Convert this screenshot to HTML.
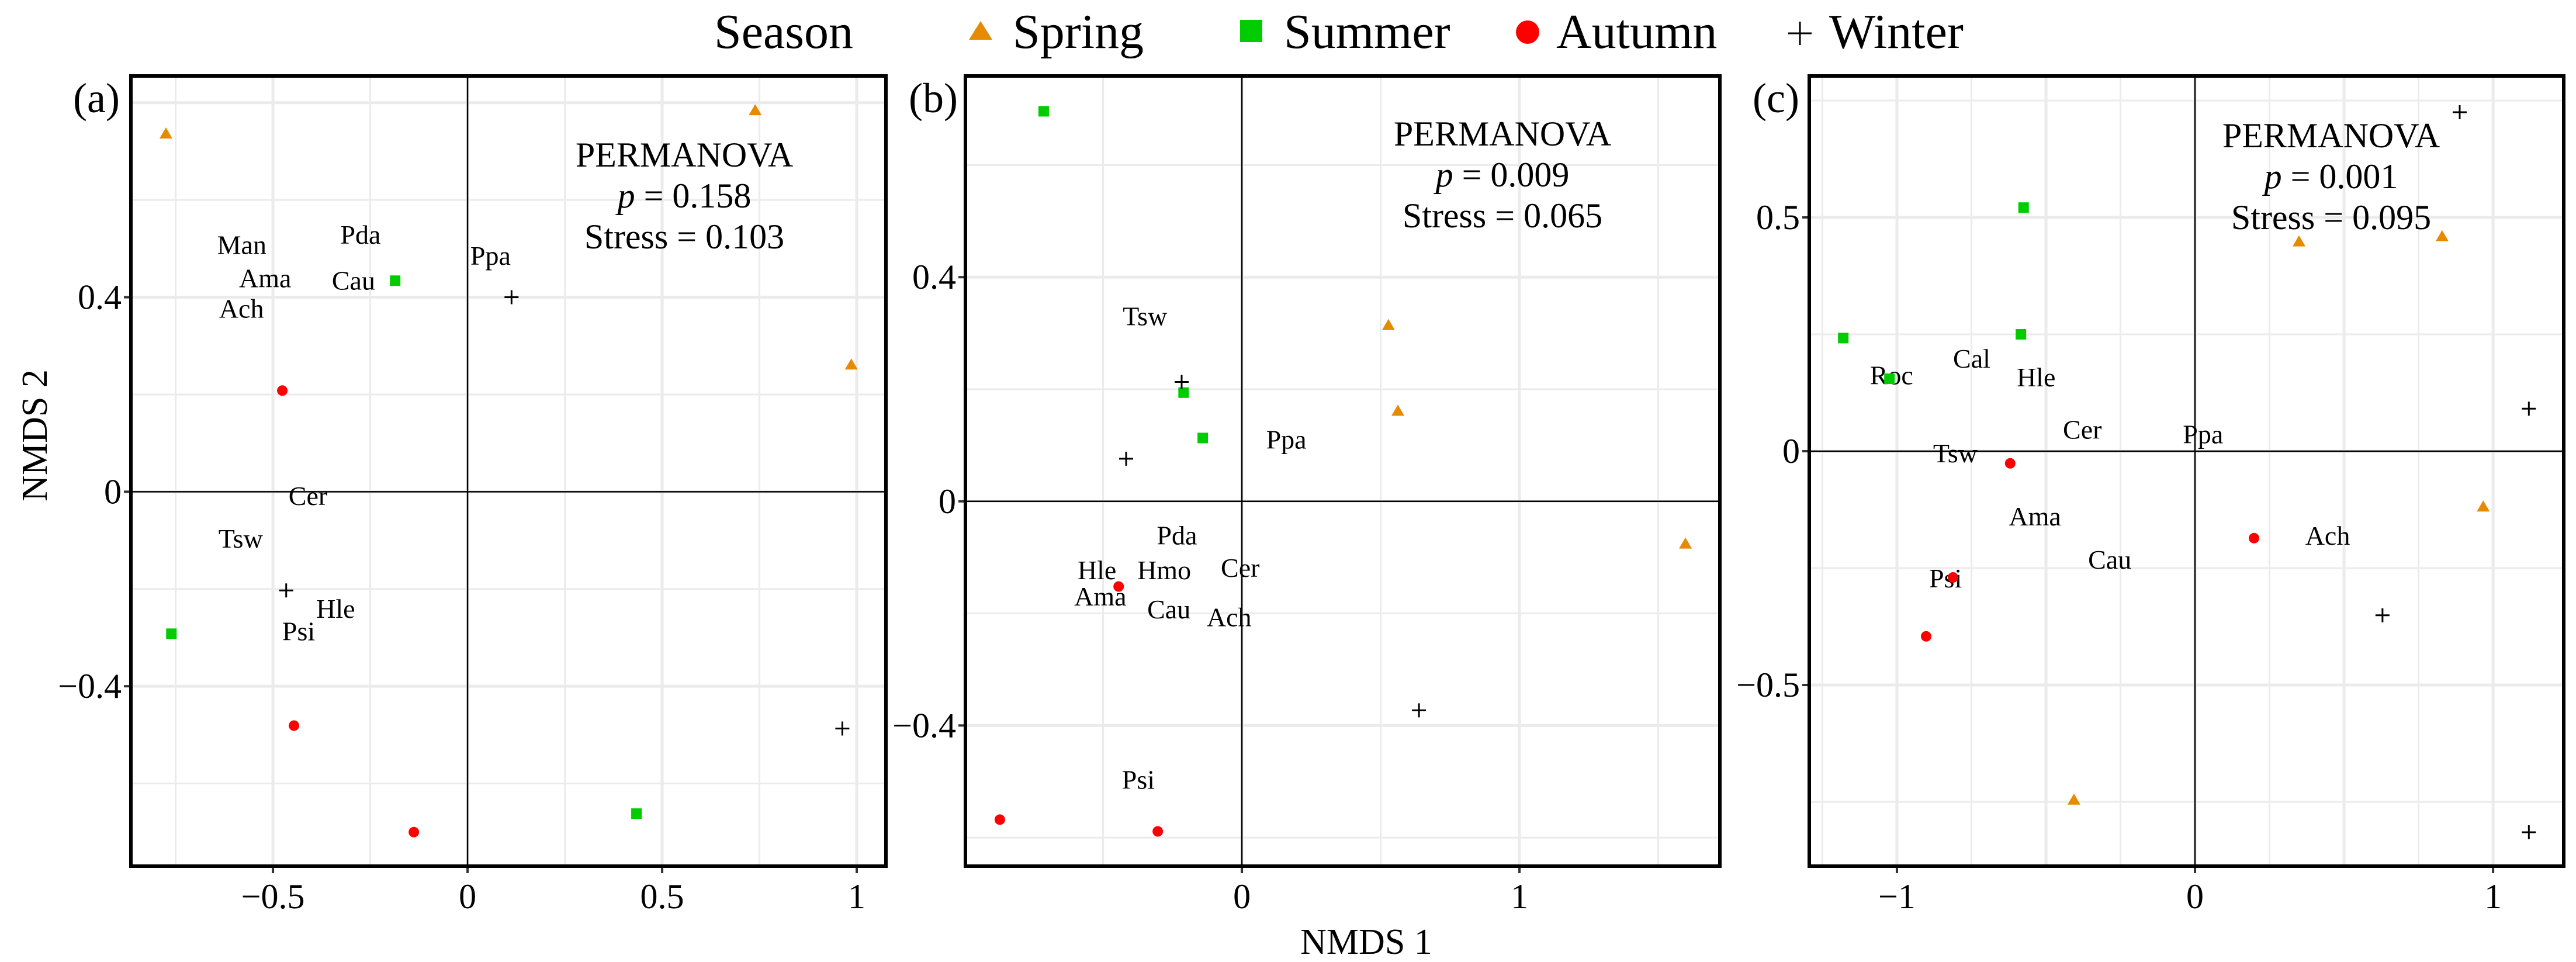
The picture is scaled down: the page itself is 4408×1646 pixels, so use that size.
<!DOCTYPE html>
<html><head><meta charset="utf-8"><style>
html,body{margin:0;padding:0;background:#fff;}
svg{display:block;}
svg text{font-family:"Liberation Serif","Times New Roman","DejaVu Serif",serif;}
</style></head><body>
<svg id="chart" width="4408" height="1646" viewBox="0 0 4408 1646" xmlns="http://www.w3.org/2000/svg" font-family="Liberation Serif, Times New Roman, serif">
<g>
<text x="1222" y="82" font-size="84" font-family="Liberation Serif, serif">Season</text>
<polygon points="1678,36 1698,68 1658,68" fill="#E68A00"/>
<text x="1733" y="82" font-size="84" font-family="Liberation Serif, serif">Spring</text>
<rect x="2122" y="34" width="38" height="38" fill="#00CC00"/>
<text x="2197" y="82" font-size="84" font-family="Liberation Serif, serif">Summer</text>
<circle cx="2614" cy="55" r="20" fill="#FF0000"/>
<text x="2663" y="82" font-size="84" font-family="Liberation Serif, serif">Autumn</text>
<path d="M3060,57 H3100 M3080,37 V77" stroke="#000" stroke-width="3"/>
<text x="3130" y="82" font-size="84" font-family="Liberation Serif, serif">Winter</text>
</g>
<text transform="translate(80,745) rotate(-90)" text-anchor="middle" font-size="62" font-family="Liberation Serif, serif">NMDS 2</text>
<text x="2338" y="1632" text-anchor="middle" font-size="62" font-family="Liberation Serif, serif">NMDS 1</text>
</svg>
<script>
// ---- Panel (a) data ----
const aSpringX=[-0.775,0.739,0.986], aSpringY=[0.736,0.784,0.261];
const aSummerX=[-0.186,-0.761,0.434], aSummerY=[0.434,-0.292,-0.662];
const aAutumnX=[-0.476,-0.446,-0.138], aAutumnY=[0.208,-0.481,-0.70];
const aWinterX=[0.113,-0.466,0.963], aWinterY=[0.40,-0.203,-0.487];
const aLabels=["Man","Ama","Ach","Pda","Cau","Ppa","Cer","Tsw","Hle","Psi"];
const aLabelX=[-0.580,-0.520,-0.581,-0.275,-0.293,0.059,-0.410,-0.583,-0.339,-0.434];
const aLabelY=[0.508,0.440,0.377,0.529,0.435,0.486,-0.008,-0.096,-0.240,-0.286];
const aXTicks=[-0.5,0,0.5,1], aXTickLabels=["−0.5","0","0.5","1"];
const aYTicks=[-0.4,0,0.4], aYTickLabels=["−0.4","0","0.4"];
const aStats=["0.158","0.103"];
// ---- Panel (b) data ----
const bSpringX=[0.528,0.562,1.598], bSpringY=[0.314,0.161,-0.076];
const bSummerX=[-0.714,-0.21,-0.141], bSummerY=[0.696,0.194,0.113];
const bAutumnX=[-0.444,-0.872,-0.303], bAutumnY=[-0.152,-0.568,-0.589];
const bWinterX=[-0.217,-0.417,0.638], bWinterY=[0.213,0.076,-0.373];
const bLabels=["Tsw","Ppa","Pda","Hle","Hmo","Cer","Ama","Cau","Ach","Psi"];
const bLabelX=[-0.349,0.160,-0.234,-0.522,-0.280,-0.006,-0.510,-0.263,-0.046,-0.373];
const bLabelY=[0.331,0.111,-0.060,-0.122,-0.122,-0.118,-0.169,-0.192,-0.206,-0.496];
const bXTicks=[0,1], bXTickLabels=["0","1"];
const bYTicks=[-0.4,0,0.4], bYTickLabels=["−0.4","0","0.4"];
const bStats=["0.009","0.065"];
// ---- Panel (c) data ----
const cSpringX=[0.349,0.829,0.967,-0.406], cSpringY=[0.448,0.459,-0.119,-0.746];
const cSummerX=[-0.575,-0.584,-1.180,-1.025], cSummerY=[0.521,0.250,0.242,0.155];
const cAutumnX=[-0.620,0.198,-0.812,-0.902], cAutumnY=[-0.026,-0.186,-0.270,-0.396];
const cWinterX=[0.888,1.12,0.629,1.12], cWinterY=[0.725,0.091,-0.351,-0.815];
const cLabels=["Roc","Cal","Hle","Cer","Ppa","Tsw","Ama","Cau","Ach","Psi"];
const cLabelX=[-1.018,-0.749,-0.533,-0.378,0.027,-0.804,-0.537,-0.286,0.445,-0.837];
const cLabelY=[0.163,0.199,0.159,0.047,0.037,-0.004,-0.139,-0.231,-0.18,-0.271];
const cXTicks=[-1,0,1], cXTickLabels=["−1","0","1"];
const cYTicks=[-0.5,0,0.5], cYTickLabels=["−0.5","0","0.5"];
const cStats=["0.001","0.095"];

const NS="http://www.w3.org/2000/svg";
const FONT="Liberation Serif, serif";
const svg=document.getElementById('chart');
function mk(tag,attrs,parent){const e=document.createElementNS(NS,tag);for(const k in attrs)e.setAttribute(k,attrs[k]);if(tag==='text')e.setAttribute('font-family',FONT);(parent||svg).appendChild(e);return e;}

function panel(cfg){
  const {id,left,right,top,bottom,xmin,xmax,ymin,ymax}=cfg;
  const sx=v=>left+(v-xmin)/(xmax-xmin)*(right-left);
  const sy=v=>bottom-(v-ymin)/(ymax-ymin)*(bottom-top);
  const g=mk('g',{});
  
  
  const grid=mk('g',{},g);
  
  
  for(let v=Math.ceil(xmin/cfg.gstep)*cfg.gstep; v<=xmax+1e-9; v+=cfg.gstep){
    const major=Math.abs(v/cfg.mstep-Math.round(v/cfg.mstep))<1e-6;
    mk('line',{x1:sx(v),x2:sx(v),y1:top,y2:bottom,stroke:'#ebebeb','stroke-width':major?5:3},grid);
  }
  for(let v=Math.ceil(ymin/cfg.gstepY)*cfg.gstepY; v<=ymax+1e-9; v+=cfg.gstepY){
    const major=Math.abs(v/cfg.mstepY-Math.round(v/cfg.mstepY))<1e-6;
    mk('line',{x1:left,x2:right,y1:sy(v),y2:sy(v),stroke:'#ebebeb','stroke-width':major?5:3},grid);
  }
  const zx=mk('line',{x1:sx(0),x2:sx(0),y1:top,y2:bottom,stroke:'#000','stroke-width':2.5},g);
  
  
  const zy=mk('line',{x1:left,x2:right,y1:sy(0),y2:sy(0),stroke:'#000','stroke-width':2.5},g);
  
  
  cfg.xTicks.forEach((v,i)=>{
    mk('line',{x1:sx(v),x2:sx(v),y1:bottom,y2:bottom+12,stroke:'#333','stroke-width':4},g);
    const t=mk('text',{x:sx(v),y:bottom+72,'text-anchor':'middle','font-size':60},g);
    
    
    t.textContent=cfg.xTickLabels[i];
  });
  cfg.yTicks.forEach((v,i)=>{
    mk('line',{x1:left-12,x2:left,y1:sy(v),y2:sy(v),stroke:'#333','stroke-width':4},g);
    const t=mk('text',{x:left-16,y:sy(v)+20,'text-anchor':'end','font-size':60},g);
    
    
    t.textContent=cfg.yTickLabels[i];
  });
  cfg.labels.forEach((s,i)=>{
    const t=mk('text',{x:sx(cfg.labelX[i]),y:sy(cfg.labelY[i])+16,'text-anchor':'middle','font-size':46},g);
    
    
    t.textContent=s;
  });
  cfg.springX.forEach((v,i)=>{const x=sx(v),y=sy(cfg.springY[i]);
    const p=mk('polygon',{points:`${x},${y-11} ${x+11},${y+8} ${x-11},${y+8}`,fill:'#E68A00'},g);
    
    });
  cfg.summerX.forEach((v,i)=>{const x=sx(v),y=sy(cfg.summerY[i]);
    const p=mk('rect',{x:x-9,y:y-9,width:18,height:18,fill:'#00CC00'},g);
    
    });
  cfg.autumnX.forEach((v,i)=>{const x=sx(v),y=sy(cfg.autumnY[i]);
    const p=mk('circle',{cx:x,cy:y,r:9,fill:'#FF0000'},g);
    
    });
  cfg.winterX.forEach((v,i)=>{const x=sx(v),y=sy(cfg.winterY[i]);
    const p=mk('path',{d:`M${x-12},${y} H${x+12} M${x},${y-12} V${y+12}`,stroke:'#000','stroke-width':3},g);
    
    });
  const b=mk('rect',{x:left,y:top,width:right-left,height:bottom-top,fill:'none',stroke:'#000','stroke-width':6},g);
  
  
  const tg=mk('text',{x:cfg.tagX,y:192,'text-anchor':'middle','font-size':72},g);
  
  
  tg.textContent='('+id+')';
  const st=mk('g',{},g);
  
  
  const t1=mk('text',{x:cfg.statX,y:cfg.statY,'text-anchor':'middle','font-size':60},st);t1.textContent='PERMANOVA';
  const t2=mk('text',{x:cfg.statX,y:cfg.statY+70,'text-anchor':'middle','font-size':60},st);
  const ti=mk('tspan',{'font-style':'italic'},t2);ti.textContent='p';
  const tr=mk('tspan',{},t2);tr.textContent=' = '+cfg.stats[0];
  const t3=mk('text',{x:cfg.statX,y:cfg.statY+140,'text-anchor':'middle','font-size':60},st);t3.textContent='Stress = '+cfg.stats[1];
}

panel({id:'a',left:224,right:1516,top:130,bottom:1482,xmin:-0.865,xmax:1.075,ymin:-0.77,ymax:0.855,
  gstep:0.25,mstep:0.5,gstepY:0.2,mstepY:0.4,
  xTicks:aXTicks,xTickLabels:aXTickLabels,yTicks:aYTicks,yTickLabels:aYTickLabels,
  labels:aLabels,labelX:aLabelX,labelY:aLabelY,
  springX:aSpringX,springY:aSpringY,summerX:aSummerX,summerY:aSummerY,autumnX:aAutumnX,autumnY:aAutumnY,winterX:aWinterX,winterY:aWinterY,
  tagX:165,statX:1171,statY:285,stats:aStats});
panel({id:'b',left:1652,right:2943,top:130,bottom:1482,xmin:-0.996,xmax:1.722,ymin:-0.651,ymax:0.759,
  gstep:0.5,mstep:1,gstepY:0.2,mstepY:0.4,
  xTicks:bXTicks,xTickLabels:bXTickLabels,yTicks:bYTicks,yTickLabels:bYTickLabels,
  labels:bLabels,labelX:bLabelX,labelY:bLabelY,
  springX:bSpringX,springY:bSpringY,summerX:bSummerX,summerY:bSummerY,autumnX:bAutumnX,autumnY:bAutumnY,winterX:bWinterX,winterY:bWinterY,
  tagX:1597,statX:2571,statY:249,stats:bStats});
panel({id:'c',left:3096,right:4387,top:130,bottom:1482,xmin:-1.294,xmax:1.237,ymin:-0.8875,ymax:0.8025,
  gstep:0.25,mstep:0.5,gstepY:0.25,mstepY:0.5,
  xTicks:cXTicks,xTickLabels:cXTickLabels,yTicks:cYTicks,yTickLabels:cYTickLabels,
  labels:cLabels,labelX:cLabelX,labelY:cLabelY,
  springX:cSpringX,springY:cSpringY,summerX:cSummerX,summerY:cSummerY,autumnX:cAutumnX,autumnY:cAutumnY,winterX:cWinterX,winterY:cWinterY,
  tagX:3039,statX:3989,statY:252,stats:cStats});
</script>
</body></html>
